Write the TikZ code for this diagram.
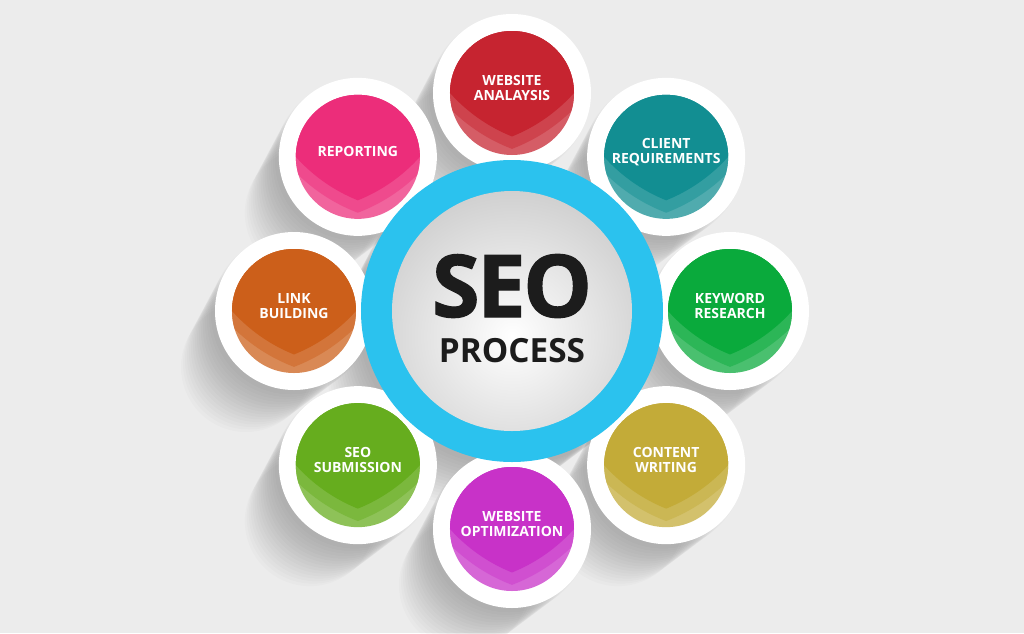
\documentclass[tikz,border=0pt]{standalone}
\usepackage{fontspec}
\setmainfont{Open Sans}
\newfontfamily\seofont{Open Sans}[LetterSpace=-3, FakeBold=1.2]

\definecolor{bggray}{RGB}{236,236,236}
\definecolor{seoblue}{RGB}{43,194,238}
\definecolor{seotext}{RGB}{28,28,28}
\definecolor{analysisred}{RGB}{198,36,48}
\definecolor{clientteal}{RGB}{18,142,146}
\definecolor{keywordgreen}{RGB}{10,170,60}
\definecolor{contentolive}{RGB}{195,171,56}
\definecolor{optimmagenta}{RGB}{200,50,200}
\definecolor{submitgreen}{RGB}{102,173,30}
\definecolor{linkorange}{RGB}{204,95,26}
\definecolor{reportpink}{RGB}{236,45,122}

% one coloured bubble: name, angle, colour, label
\newcommand{\seobubble}[4]{%
	\begin{scope}[shift={(#2:218)}]
	\fill[white] (0,0) circle (79);
	\fill[#3!74!white] (0,0) circle (62);
	\begin{scope}
	\clip (62,107.4) circle (174.6);
	\clip (-62,107.4) circle (174.6);
	\fill[#3!86!white] (0,0) circle (62);
	\clip (62,111) circle (166.4);
	\clip (-62,111) circle (166.4);
	\fill[#3] (0,0) circle (62);
	\end{scope}
	\node[bubblelabel] (#1) at (0,5) {#4};
	\end{scope}}

\begin{document}
\begin{tikzpicture}[x=0.75pt, y=0.75pt,
	bubblelabel/.style={align=center, text=white, inner sep=0pt,
		font=\bfseries\fontsize{10.5}{11}\selectfont},
	shadowdisc/.style={black, opacity=.016}]
	
	\useasboundingbox (-512,-322) rectangle (512,311);
	\fill[bggray] (-512,-322) rectangle (512,311);
	
	% soft shadows towards the lower left
	\foreach \a in {90,45,0,-45,-90,-135,180,135}
	\foreach \k in {1,...,16}
	\fill[shadowdisc, shift={(\a:218)}] (-3*\k,-3.5*\k) circle (81-\k);
	\foreach \k in {1,...,16}
	\fill[shadowdisc] (-3*\k,-3.5*\k) circle (153-\k);
	
	\seobubble{analysis}{90}{analysisred}{WEBSITE\\ANALAYSIS}
	\seobubble{client}{45}{clientteal}{CLIENT\\REQUIREMENTS}
	\seobubble{keyword}{0}{keywordgreen}{KEYWORD\\RESEARCH}
	\seobubble{content}{-45}{contentolive}{CONTENT\\WRITING}
	\seobubble{optimization}{-90}{optimmagenta}{WEBSITE\\OPTIMIZATION}
	\seobubble{submission}{-135}{submitgreen}{SEO\\SUBMISSION}
	\seobubble{link}{180}{linkorange}{LINK\\BUILDING}
	\seobubble{reporting}{135}{reportpink}{REPORTING}
	
	% centre
	\fill[seoblue] (0,0) circle (151);
	\begin{scope}
	\clip (0,0) circle (120);
	\shade[inner color=white, outer color=black!19] (0,-25) circle (150);
	\end{scope}
	\node[anchor=base, inner sep=0pt, text=seotext, font=\seofont\bfseries\fontsize{65}{65}\selectfont] (seo) at (0,-6) {SEO};
	\node[anchor=base, inner sep=0pt, text=seotext, font=\bfseries\fontsize{25}{25}\selectfont] (process) at (0,-51) {PROCESS};
	
\end{tikzpicture}
\end{document}
